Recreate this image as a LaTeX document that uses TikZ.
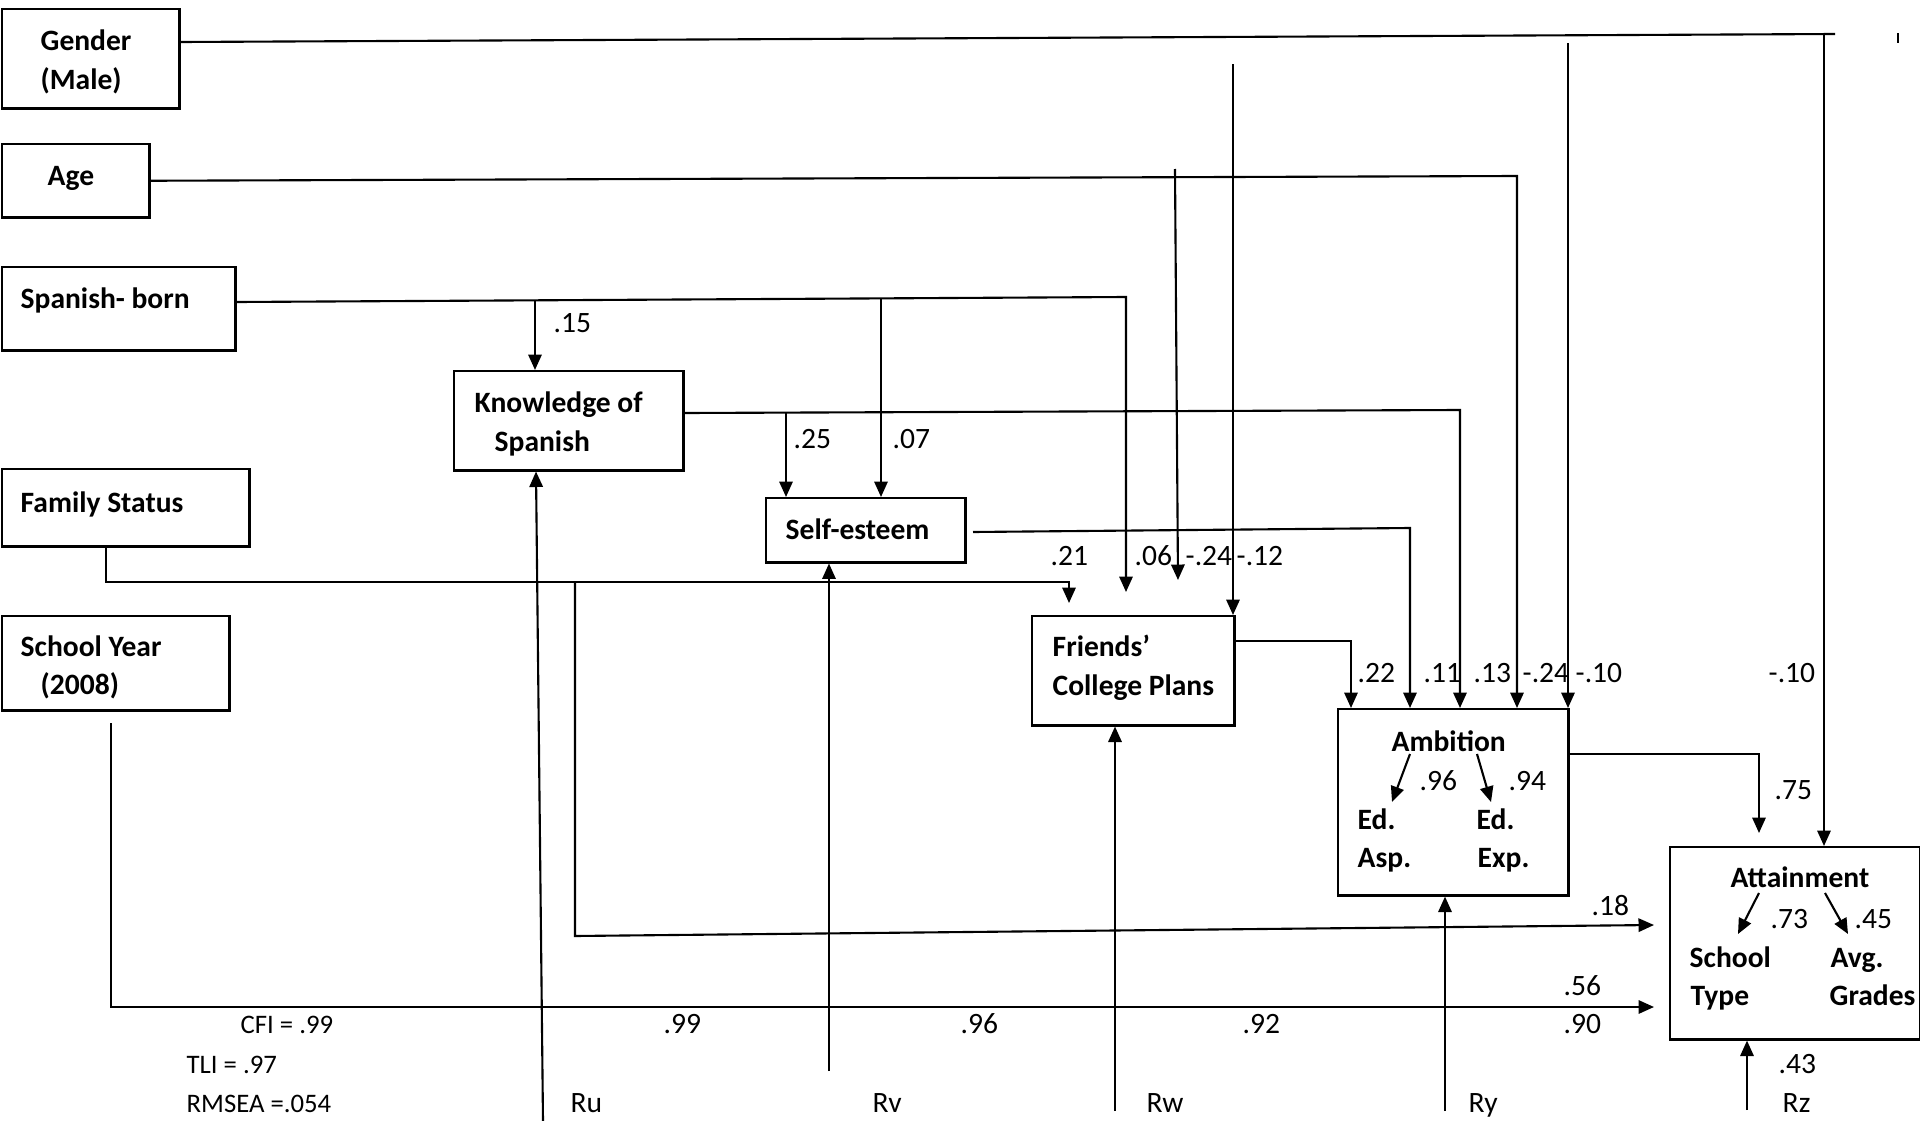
\documentclass[tikz,border=0pt]{standalone}
\usepackage{fontspec}
\setmainfont{Carlito}
\usetikzlibrary{arrows.meta}
\begin{document}
\begin{tikzpicture}[x=0.01cm,y=-0.01cm,
  font=\fontsize{8.4pt}{10pt}\selectfont,
  box/.style={draw, line width=0.7pt, inner sep=0pt, anchor=north west},
  bt/.style={font=\fontsize{8.4pt}{10pt}\selectfont\bfseries, anchor=base west, inner sep=0pt},
  num/.style={anchor=base west, inner sep=0pt},
  fit/.style={font=\fontsize{7.6pt}{9pt}\selectfont, anchor=base west, inner sep=0pt},
  ln/.style={line width=0.6pt},
  arr/.style={-{Triangle[length=4.4pt,width=3.8pt]}}]
\fill[white] (0,0) rectangle (1920,1121);
\useasboundingbox (0,0) rectangle (1920,1121);

% boxes
\node[box, minimum width=1.77cm, minimum height=0.99cm] (gender) at (1,8) {};
\node[box, minimum width=1.47cm, minimum height=0.73cm] (age) at (1,143) {};
\node[box, minimum width=2.33cm, minimum height=0.83cm] (spanish) at (1,266) {};
\node[box, minimum width=2.29cm, minimum height=0.99cm] (know) at (453,370) {};
\node[box, minimum width=2.47cm, minimum height=0.77cm] (family) at (1,468) {};
\node[box, minimum width=2.27cm, minimum height=0.94cm] (school) at (1,615) {};
\node[box, minimum width=1.99cm, minimum height=0.64cm] (self) at (765,497) {};
\node[box, minimum width=2.02cm, minimum height=1.09cm] (friends) at (1031,615) {};
\node[box, minimum width=2.30cm, minimum height=1.86cm] (ambition) at (1337,708) {};
\node[box, minimum width=2.50cm, minimum height=1.92cm] (attain) at (1669,846) {};

% box texts
\node[bt] (tgender) at (40,51) {Gender};
\node[bt] (tmale) at (40,90) {(Male)};
\node[bt] (tage) at (47,185) {Age};
\node[bt] (tspan) at (20,308) {Spanish- born};
\node[bt] (tknow1) at (474,412) {Knowledge of};
\node[bt] (tknow2) at (494,451) {Spanish};
\node[bt] (tfam) at (20,512) {Family Status};
\node[bt] (tsch1) at (20,656) {School Year};
\node[bt] (tsch2) at (40,694) {(2008)};
\node[bt] (tself) at (785,539) {Self-esteem};
\node[bt] (tfr1) at (1052,656) {Friends’};
\node[bt] (tfr2) at (1052,695) {College Plans};
\node[bt] (tamb) at (1391,751) {Ambition};
\node[bt] (ted1) at (1357,829) {Ed.};
\node[bt] (tasp) at (1357,867) {Asp.};
\node[bt] (ted2) at (1476,829) {Ed.};
\node[bt] (texp) at (1477,867) {Exp.};
\node[bt] (tatt) at (1730,887) {Attainment};
\node[bt] (tschool) at (1689,967) {School};
\node[bt] (ttype) at (1690,1005) {Type};
\node[bt] (tavg) at (1830,967) {Avg.};
\node[bt] (tgrades) at (1829,1005) {Grades};

% loadings inside boxes
\draw[ln,arr] (1410,754) -- (1392,802);
\draw[ln,arr] (1477,754) -- (1491,802);
\draw[ln,arr] (1759,893) -- (1738,934);
\draw[ln,arr] (1825,893) -- (1848,934);
\node[num] at (1419,790) {.96};
\node[num] at (1508,790) {.94};
\node[num] at (1770,928) {.73};
\node[num] at (1854,928) {.45};

% Gender paths
\coordinate (gE) at (1835,34);
\draw[ln] (gender.east |- 0,42) -- (gE);
\coordinate (gA) at (1824,35);
\draw[ln,arr] (gA) -- (attain.north -| gA);
\coordinate (gB) at (1568,43);
\draw[ln,arr] (gB) -- (ambition.north -| gB);
\coordinate (gC) at (1233,64);
\draw[ln,arr] (gC) -- (friends.north -| gC);
\coordinate (tk1) at (1898,33);
\coordinate (tk2) at (1898,43);
\draw[line width=0.4pt] (tk1) -- (tk2);

% Age paths
\draw[ln,arr] (age.east) -- (1517,176) -- (ambition.north -| 1517,0);
\coordinate (aF1) at (1175,169);
\coordinate (aF2) at (1178,580);
\draw[ln,arr] (aF1) -- (aF2);

% Spanish-born paths
\coordinate (sF) at (1126,592);
\draw[ln,arr] (spanish.east |- 0,302) -- (1126,297) -- (sF);
\coordinate (sK) at (535,301);
\draw[ln,arr] (sK) -- (know.north -| sK);
\coordinate (sS) at (881,299);
\draw[ln,arr] (sS) -- (self.north -| sS);

% Knowledge paths
\draw[ln,arr] (know.east |- 0,413) -- (1460,410) -- (ambition.north -| 1460,0);
\coordinate (kS) at (786,413);
\draw[ln,arr] (kS) -- (self.north -| kS);

% Self-esteem path
\coordinate (seS) at (973,532);
\draw[ln,arr] (seS) -- (1410,528) -- (ambition.north -| 1410,0);

% Friends path
\draw[ln,arr] (friends.east |- 0,641) -- (1351,641) -- (ambition.north -| 1351,0);

% Ambition path
\coordinate (amE) at (1759,833);
\draw[ln,arr] (ambition.east |- 0,754) -- (1759,754) -- (amE);

% Family status paths
\coordinate (fF) at (1069,603);
\draw[ln,arr] (family.south -| 106,0) -- (106,582) -- (1069,582) -- (fF);
\coordinate (fA) at (1654,925);
\draw[ln,arr] (575,582) -- (575,936) -- (fA);

% School year path
\coordinate (scT) at (111,723);
\coordinate (scA) at (1654,1007);
\draw[ln,arr] (scT) -- (111,1007) -- (scA);

% residuals
\coordinate (ru) at (543,1121);
\coordinate (rv) at (829,1071);
\coordinate (rw) at (1115,1111);
\coordinate (ry) at (1445,1111);
\coordinate (rz) at (1747,1110);
\draw[ln,arr] (ru) -- (know.south -| 536,0);
\draw[ln,arr] (rv) -- (self.south -| rv);
\draw[ln,arr] (rw) -- (friends.south -| rw);
\draw[ln,arr] (ry) -- (ambition.south -| ry);
\draw[ln,arr] (rz) -- (attain.south -| rz);

% coefficient labels
\node[num] at (553,332) {.15};
\node[num] at (793,448) {.25};
\node[num] at (892,448) {.07};
\node[num] at (1050,565) {.21};
\node[num] at (1134,565) {.06};
\node[num] at (1185,565) {-.24};
\node[num] at (1236,565) {-.12};
\node[num] at (1357,682) {.22};
\node[num] at (1423,682) {.11};
\node[num] at (1473,682) {.13};
\node[num] at (1522,682) {-.24};
\node[num] at (1575,682) {-.10};
\node[num] at (1768,682) {-.10};
\node[num] at (1774,799) {.75};
\node[num] at (1591,915) {.18};
\node[num] at (1563,995) {.56};
\node[num] at (1563,1033) {.90};
\node[fit] at (240,1033) {CFI = .99};
\node[num] at (663,1033) {.99};
\node[num] at (960,1033) {.96};
\node[num] at (1242,1033) {.92};
\node[fit] at (186,1073) {TLI = .97};
\node[fit] at (186,1112) {RMSEA =.054};
\node[num] at (1778,1073) {.43};
\node[num] at (570,1112) {Ru};
\node[num] at (872,1112) {Rv};
\node[num] at (1146,1112) {Rw};
\node[num] at (1468,1112) {Ry};
\node[num] at (1782,1112) {Rz};
\end{tikzpicture}
\end{document}
